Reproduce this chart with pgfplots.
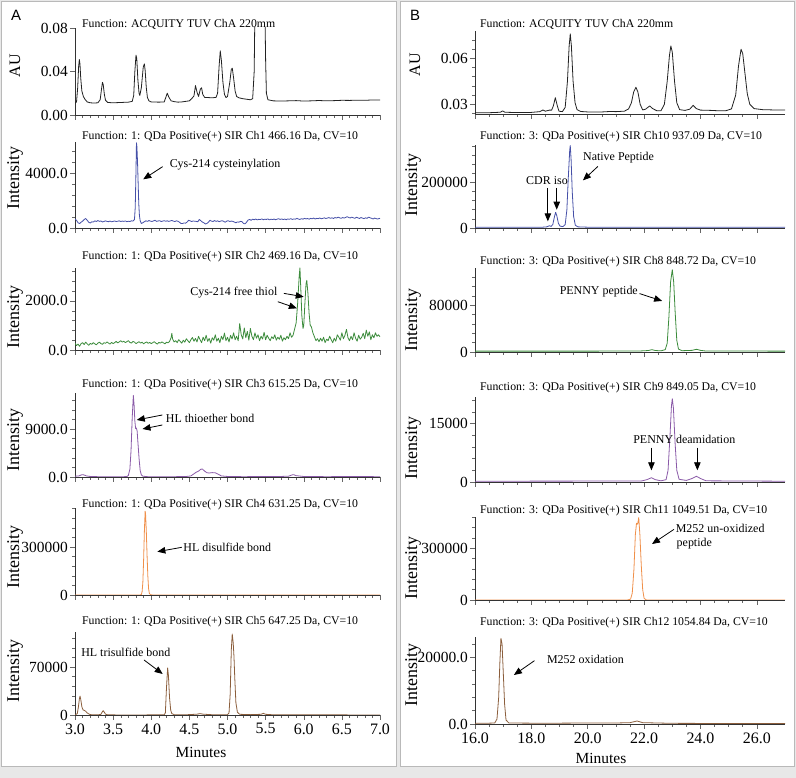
\documentclass[border=0pt]{standalone}
\usepackage{pgfplots}
\pgfplotsset{compat=1.18}
\usepackage{fontspec}
\setmainfont{Liberation Serif}
\newfontfamily\panelfont{Liberation Sans}
\usetikzlibrary{arrows.meta}
\definecolor{cblack}{HTML}{222222}
\definecolor{cblue}{HTML}{4650A8}
\definecolor{cgreen}{HTML}{3C8C3C}
\definecolor{cpurple}{HTML}{8A5AA8}
\definecolor{corange}{HTML}{F0904A}
\definecolor{cbrown}{HTML}{8B5E3C}
\pgfplotsset{
  chrom/.style={scale only axis, axis lines*=left, tick align=outside, clip mode=individual,
    anchor=south west, scaled y ticks=false, scaled x ticks=false,
    axis line style={black!80,line width=0.6bp},
    major tick length=5bp, minor tick length=3bp,
    every tick/.style={black!60,line width=0.5bp},
    yticklabel style={font=\fontsize{15.5}{15.5}\selectfont, inner sep=2bp},
    xticklabel style={font=\fontsize{16}{16}\selectfont},
    every axis plot/.append style={line width=0.8bp, line join=round}},
  panelA/.style={chrom, width=305bp, xmin=3, xmax=7, xtick={3,3.5,4,4.5,5,5.5,6,6.5,7}, minor x tick num=4, xticklabels={}},
  panelB/.style={chrom, width=310bp, xmin=16, xmax=27, xtick={16,18,20,22,24,26}, minor x tick num=3, xticklabels={}},
}
\tikzset{annarrow/.style={black, line width=0.8bp, -{Triangle[length=8bp,width=6.5bp]}},
  ann/.style={anchor=west, inner sep=0pt, font=\fontsize{12}{13}\selectfont}}
\begin{document}
\begin{tikzpicture}[x=1bp,y=1bp]
\path[use as bounding box] (0,0) rectangle (796,778);
\fill[gray!18] (0,0) rectangle (796,778);
\filldraw[fill=white, draw=gray!55, line width=1bp] (1.5,11) rectangle (396,776.5);
\filldraw[fill=white, draw=gray!55, line width=1bp] (400,11) rectangle (794.5,776.5);
\node[font=\panelfont\fontsize{15}{15}\selectfont] at (16,763) {A};
\node[font=\panelfont\fontsize{15}{15}\selectfont] at (415,763) {B};

% ---------------- Panel A ----------------
\begin{axis}[panelA, at={(75bp,663bp)}, height=87bp, ymin=0, ymax=0.08,
  ytick={0,0.04,0.08}, yticklabels={0.00,0.04,0.08}]
\addplot[cblack] coordinates {
(3.00,0.0108)(3.02,0.012)(3.035,0.025)(3.048,0.045)(3.057,0.051)(3.065,0.047)(3.075,0.034)(3.09,0.022)(3.11,0.017)(3.13,0.0145)(3.16,0.012)(3.20,0.0112)(3.25,0.011)(3.30,0.0112)(3.33,0.014)(3.35,0.025)(3.36,0.030)(3.37,0.028)(3.385,0.019)(3.40,0.0135)(3.43,0.0115)(3.50,0.0112)(3.60,0.0115)(3.70,0.0118)(3.75,0.0125)(3.77,0.018)(3.785,0.040)(3.80,0.055)(3.81,0.052)(3.825,0.032)(3.84,0.020)(3.85,0.018)(3.87,0.025)(3.895,0.044)(3.91,0.047)(3.92,0.041)(3.935,0.025)(3.95,0.016)(3.97,0.013)(4.00,0.012)(4.10,0.0118)(4.17,0.012)(4.19,0.016)(4.21,0.020)(4.23,0.0165)(4.26,0.013)(4.30,0.0123)(4.35,0.0118)(4.40,0.012)(4.45,0.0125)(4.50,0.013)(4.53,0.015)(4.56,0.0175)(4.58,0.027)(4.60,0.021)(4.62,0.017)(4.645,0.024)(4.66,0.025)(4.675,0.019)(4.70,0.0162)(4.75,0.016)(4.80,0.0158)(4.85,0.0162)(4.87,0.020)(4.89,0.045)(4.905,0.059)(4.92,0.050)(4.94,0.030)(4.96,0.019)(4.98,0.016)(5.00,0.017)(5.03,0.030)(5.05,0.042)(5.063,0.043)(5.08,0.034)(5.10,0.022)(5.12,0.017)(5.15,0.0158)(5.20,0.015)(5.25,0.0145)(5.30,0.014)(5.33,0.015)(5.35,0.040)(5.36,0.10)(5.37,0.12)(5.40,0.10)(5.43,0.095)(5.46,0.10)(5.48,0.12)(5.49,0.10)(5.50,0.05)(5.51,0.020)(5.53,0.014)(5.60,0.013)(5.70,0.0128)(5.80,0.013)(5.90,0.0132)(6.00,0.0128)(6.10,0.013)(6.20,0.0133)(6.30,0.013)(6.40,0.0132)(6.50,0.0135)(6.60,0.0134)(6.70,0.0136)(6.80,0.0135)(6.90,0.0138)(7.00,0.0138)};
\end{axis}

\begin{axis}[panelA, at={(75bp,550bp)}, height=86bp, ymin=0, ymax=6255,
  ytick={0,4000}, yticklabels={0.0,4000.0}, minor ytick={800,1600,2400,3200,4800,5600}]
\addplot[cblue] coordinates {
(3.000,650)(3.020,560)(3.040,380)(3.060,320)(3.080,420)(3.100,500)(3.120,610)(3.140,690)(3.160,560)(3.180,420)(3.200,360)(3.220,450)(3.240,430)(3.260,520)(3.280,470)(3.300,540)(3.320,480)(3.340,510)(3.360,440)(3.380,470)(3.400,520)(3.420,480)(3.440,460)(3.460,500)(3.480,450)(3.500,480)(3.520,510)(3.540,470)(3.560,490)(3.580,520)(3.600,470)(3.620,500)(3.640,480)(3.660,510)(3.680,460)(3.700,490)(3.720,470)(3.740,520)(3.760,500)(3.780,620)(3.790,1500)(3.800,4200)(3.806,6200)(3.812,5900)(3.820,4800)(3.828,3300)(3.836,1800)(3.845,900)(3.855,520)(3.870,330)(3.890,380)(3.910,460)(3.930,520)(3.950,480)(3.970,540)(3.990,500)(4.010,470)(4.030,520)(4.050,560)(4.070,480)(4.090,510)(4.110,530)(4.130,470)(4.150,500)(4.170,530)(4.190,490)(4.210,520)(4.230,480)(4.250,510)(4.270,550)(4.290,500)(4.310,470)(4.330,520)(4.350,490)(4.370,420)(4.390,330)(4.410,320)(4.430,370)(4.450,350)(4.470,430)(4.490,560)(4.510,520)(4.530,470)(4.550,510)(4.570,490)(4.590,480)(4.610,450)(4.630,620)(4.650,530)(4.670,430)(4.690,380)(4.710,290)(4.730,330)(4.750,420)(4.770,560)(4.790,500)(4.810,470)(4.830,540)(4.850,480)(4.870,520)(4.890,460)(4.910,500)(4.930,530)(4.950,480)(4.970,420)(4.990,500)(5.010,530)(5.030,470)(5.050,500)(5.070,480)(5.090,430)(5.110,380)(5.130,440)(5.150,420)(5.170,480)(5.190,460)(5.210,330)(5.230,300)(5.250,420)(5.270,580)(5.290,620)(5.310,560)(5.330,640)(5.350,600)(5.370,650)(5.390,590)(5.410,630)(5.430,610)(5.450,660)(5.470,600)(5.490,640)(5.510,620)(5.530,660)(5.550,590)(5.570,640)(5.590,610)(5.610,650)(5.630,600)(5.650,640)(5.670,680)(5.690,620)(5.710,660)(5.730,610)(5.750,650)(5.770,600)(5.790,660)(5.810,630)(5.830,680)(5.850,620)(5.870,660)(5.890,640)(5.910,700)(5.930,650)(5.950,620)(5.970,680)(5.990,640)(6.010,700)(6.030,660)(6.050,690)(6.070,640)(6.090,700)(6.110,670)(6.130,720)(6.150,650)(6.170,700)(6.190,680)(6.210,730)(6.230,670)(6.250,700)(6.270,740)(6.290,690)(6.310,720)(6.330,760)(6.350,700)(6.370,740)(6.390,690)(6.410,760)(6.430,720)(6.450,790)(6.470,740)(6.490,700)(6.510,760)(6.530,720)(6.550,770)(6.570,820)(6.590,760)(6.610,730)(6.630,790)(6.650,740)(6.670,700)(6.690,780)(6.710,740)(6.730,690)(6.750,760)(6.770,720)(6.790,680)(6.810,740)(6.830,700)(6.850,790)(6.870,740)(6.890,700)(6.910,660)(6.930,720)(6.950,680)(6.970,650)(6.990,700)(7.000,680)};
\draw[annarrow] (axis cs:4.149,4460) -- (axis cs:3.895,3540);
\node[ann] at (axis cs:4.24,4580) {Cys-214 cysteinylation};
\end{axis}

\begin{axis}[panelA, at={(75bp,428bp)}, height=82bp, ymin=0, ymax=3346,
  ytick={0,2000}, yticklabels={0.0,2000.0}, minor ytick={400,800,1200,1600,2400,2800,3200}]
\addplot[cgreen] coordinates {
(3.00,280)(3.02,180)(3.04,240)(3.06,150)(3.08,260)(3.10,300)(3.12,220)(3.14,320)(3.16,250)(3.18,190)(3.20,270)(3.22,230)(3.24,300)(3.26,250)(3.28,210)(3.30,280)(3.32,320)(3.34,260)(3.36,230)(3.38,300)(3.40,270)(3.42,330)(3.44,280)(3.46,240)(3.48,310)(3.50,260)(3.52,300)(3.54,350)(3.56,290)(3.58,330)(3.60,380)(3.62,320)(3.64,360)(3.66,300)(3.68,340)(3.70,380)(3.72,310)(3.74,280)(3.76,350)(3.78,320)(3.80,260)(3.82,300)(3.84,340)(3.86,280)(3.88,320)(3.90,250)(3.92,300)(3.94,330)(3.96,270)(3.98,310)(4.00,260)(4.02,300)(4.04,340)(4.06,280)(4.08,240)(4.10,310)(4.12,280)(4.14,330)(4.16,290)(4.18,250)(4.20,320)(4.22,290)(4.24,350)(4.26,500)(4.27,680)(4.28,450)(4.30,330)(4.32,380)(4.34,300)(4.36,420)(4.38,350)(4.40,280)(4.42,400)(4.44,320)(4.46,460)(4.48,380)(4.50,300)(4.52,420)(4.54,510)(4.56,360)(4.58,470)(4.60,330)(4.62,560)(4.64,420)(4.66,300)(4.68,520)(4.70,380)(4.72,600)(4.74,350)(4.76,470)(4.78,280)(4.80,500)(4.82,400)(4.84,620)(4.86,360)(4.88,480)(4.90,300)(4.92,560)(4.94,420)(4.96,690)(4.98,380)(5.00,520)(5.02,330)(5.04,600)(5.06,450)(5.08,700)(5.10,420)(5.12,560)(5.14,380)(5.16,1080)(5.18,620)(5.20,450)(5.22,900)(5.24,500)(5.26,760)(5.28,400)(5.30,880)(5.32,560)(5.34,420)(5.36,700)(5.38,480)(5.40,620)(5.42,380)(5.44,560)(5.46,450)(5.48,720)(5.50,420)(5.52,600)(5.54,480)(5.56,380)(5.58,540)(5.60,460)(5.62,620)(5.64,400)(5.66,520)(5.68,440)(5.70,600)(5.72,360)(5.74,500)(5.76,420)(5.78,560)(5.80,460)(5.82,700)(5.84,520)(5.86,600)(5.88,850)(5.90,1100)(5.92,1900)(5.94,3000)(5.95,3350)(5.96,2600)(5.975,1400)(5.99,880)(6.00,1000)(6.015,1900)(6.03,2700)(6.04,2840)(6.055,2300)(6.07,1500)(6.085,1000)(6.10,950)(6.12,700)(6.14,540)(6.16,380)(6.18,460)(6.20,340)(6.22,480)(6.24,360)(6.26,520)(6.28,300)(6.30,440)(6.32,380)(6.34,560)(6.36,420)(6.38,300)(6.40,480)(6.42,360)(6.44,620)(6.46,520)(6.48,400)(6.50,700)(6.52,460)(6.54,600)(6.56,840)(6.58,500)(6.60,380)(6.62,560)(6.64,420)(6.66,700)(6.68,480)(6.70,360)(6.72,600)(6.74,440)(6.76,520)(6.78,680)(6.80,460)(6.82,810)(6.84,560)(6.86,740)(6.88,420)(6.90,620)(6.92,500)(6.94,700)(6.96,560)(6.98,620)(7.00,540)};
\draw[annarrow] (axis cs:5.74,2310) -- (axis cs:6.00,2170);
\draw[annarrow] (axis cs:5.66,1970) -- (axis cs:5.91,1700);
\node[ann] at (axis cs:4.51,2340) {Cys-214 free thiol};
\end{axis}

\begin{axis}[panelA, at={(75bp,301bp)}, height=84bp, ymin=0, ymax=15750,
  ytick={0,9000}, yticklabels={0.0,9000.0}, minor ytick={1800,3600,5400,7200,10800,12600,14400}]
\addplot[cpurple] coordinates {
(3.00,150)(3.05,200)(3.08,380)(3.10,430)(3.12,380)(3.15,200)(3.20,100)(3.30,60)(3.40,50)(3.50,40)(3.60,40)(3.68,80)(3.70,300)(3.72,1500)(3.735,5000)(3.75,11000)(3.765,15300)(3.775,13500)(3.785,10500)(3.795,9100)(3.805,9200)(3.815,8600)(3.825,6500)(3.84,3500)(3.855,1200)(3.87,400)(3.89,150)(3.95,60)(4.10,50)(4.30,60)(4.45,80)(4.52,200)(4.56,600)(4.59,900)(4.62,1100)(4.65,1450)(4.67,1500)(4.70,1100)(4.73,800)(4.76,750)(4.80,820)(4.84,780)(4.88,500)(4.92,200)(5.00,100)(5.20,60)(5.50,80)(5.70,100)(5.80,150)(5.85,400)(5.87,430)(5.90,250)(6.00,90)(6.30,60)(6.60,80)(7.00,60)};
\draw[annarrow] (axis cs:4.145,11625) -- (axis cs:3.81,10690);
\draw[annarrow] (axis cs:4.145,9750) -- (axis cs:3.885,9000);
\node[ann] at (axis cs:4.19,11000) {HL thioether bond};
\end{axis}

\begin{axis}[panelA, at={(75bp,183bp)}, height=87bp, ymin=0, ymax=543750,
  ytick={0,300000}, yticklabels={0,300000}, minor ytick={60000,120000,180000,240000,360000,420000,480000,540000}]
\addplot[corange] coordinates {
(3.00,0)(3.85,0)(3.87,3000)(3.88,20000)(3.89,80000)(3.90,220000)(3.91,400000)(3.92,524000)(3.925,510000)(3.935,400000)(3.945,250000)(3.955,120000)(3.965,40000)(3.975,10000)(3.99,2000)(4.02,0)(7.00,0)};
\draw[annarrow] (axis cs:4.40,298000) -- (axis cs:4.08,270600);
\node[ann] at (axis cs:4.42,300000) {HL disulfide bond};
\end{axis}

\begin{axis}[panelA, at={(75bp,63bp)}, height=83bp, ymin=0, ymax=121000,
  ytick={0,70000}, yticklabels={0,70000}, minor ytick={14000,28000,42000,56000,84000,98000,112000},
  xticklabels={3.0,3.5,4.0,4.5,5.0,5.5,6.0,6.5,7.0}]
\addplot[cbrown] coordinates {
(3.00,0)(3.03,2000)(3.045,12000)(3.058,24000)(3.066,27500)(3.075,23000)(3.09,12000)(3.105,7500)(3.125,6500)(3.14,5500)(3.16,3000)(3.19,1000)(3.22,300)(3.30,200)(3.34,1000)(3.36,5000)(3.37,6300)(3.385,4000)(3.40,1200)(3.43,200)(3.60,100)(4.00,150)(4.17,300)(4.185,3000)(4.20,40000)(4.215,68500)(4.225,58000)(4.24,25000)(4.255,7000)(4.27,2000)(4.30,500)(4.45,300)(4.60,1200)(4.64,2000)(4.68,1200)(4.80,400)(5.00,500)(5.02,3000)(5.035,30000)(5.05,95000)(5.062,118000)(5.075,105000)(5.085,85000)(5.095,55000)(5.11,18000)(5.13,4000)(5.16,1000)(5.30,500)(5.44,1000)(5.47,2400)(5.50,1000)(5.60,300)(6.00,200)(7.00,100)};
\draw[annarrow] (axis cs:3.905,80200) -- (axis cs:4.15,59800);
\node[ann] at (axis cs:3.08,90800) {HL trisulfide bond};
\end{axis}

% ---------------- Panel B ----------------
\begin{axis}[panelB, at={(475bp,664bp)}, height=83bp, ymin=0.02367, ymax=0.0778,
  ytick={0.03,0.06}, yticklabels={0.03,0.06}, minor ytick={0.024,0.036,0.042,0.048,0.054,0.066,0.072}]
\addplot[cblack] coordinates {
(16.00,0.0245)(16.50,0.0245)(16.90,0.0248)(16.98,0.0257)(17.06,0.0248)(17.50,0.0246)(18.00,0.0247)(18.30,0.0252)(18.41,0.0263)(18.50,0.0255)(18.64,0.0262)(18.72,0.0262)(18.78,0.029)(18.85,0.0343)(18.92,0.029)(18.98,0.0255)(19.10,0.0252)(19.20,0.028)(19.28,0.045)(19.34,0.068)(19.38,0.0759)(19.42,0.068)(19.48,0.045)(19.55,0.031)(19.62,0.0265)(19.75,0.0253)(20.00,0.025)(20.50,0.025)(20.80,0.0253)(21.00,0.0252)(21.30,0.0255)(21.45,0.027)(21.55,0.031)(21.63,0.038)(21.71,0.0411)(21.78,0.038)(21.86,0.030)(21.95,0.0263)(22.05,0.0268)(22.20,0.0289)(22.30,0.0272)(22.45,0.0258)(22.60,0.0258)(22.72,0.030)(22.82,0.045)(22.90,0.062)(22.95,0.068)(23.00,0.064)(23.08,0.045)(23.16,0.031)(23.26,0.0265)(23.45,0.026)(23.62,0.0268)(23.74,0.0293)(23.85,0.0272)(24.00,0.0262)(24.39,0.026)(24.60,0.0258)(24.90,0.0258)(25.10,0.027)(25.25,0.036)(25.35,0.055)(25.44,0.0659)(25.50,0.063)(25.58,0.050)(25.66,0.037)(25.75,0.030)(25.90,0.0272)(26.20,0.0265)(26.60,0.0263)(27.00,0.0263)};
\end{axis}

\begin{axis}[panelB, at={(475bp,550bp)}, height=83bp, ymin=0, ymax=364000,
  ytick={0,200000}, yticklabels={0,200000}, minor ytick={40000,80000,120000,160000,240000,280000,320000,360000}]
\addplot[cblue] coordinates {
(16.00,3000)(18.00,3000)(18.40,3500)(18.55,5000)(18.64,10000)(18.70,7000)(18.76,15000)(18.82,50000)(18.86,68600)(18.90,55000)(18.96,20000)(19.02,8000)(19.12,6000)(19.20,15000)(19.26,80000)(19.31,220000)(19.36,340000)(19.38,362000)(19.41,300000)(19.45,160000)(19.50,50000)(19.56,12000)(19.65,5000)(20.00,3500)(22.00,3000)(24.00,3000)(27.00,3000)};
\draw[annarrow] (axis cs:20.36,270000) -- (axis cs:19.83,208800);
\node[ann] at (axis cs:19.83,307000) {Native Peptide};
\draw[annarrow] (axis cs:18.585,175400) -- (axis cs:18.585,29000);
\draw[annarrow] (axis cs:18.90,175400) -- (axis cs:18.90,80300);
\node[ann] at (axis cs:17.81,208800) {CDR iso};
\end{axis}

\begin{axis}[panelB, at={(475bp,426bp)}, height=84bp, ymin=0, ymax=143900,
  ytick={0,80000}, yticklabels={0,80000}, minor ytick={16000,32000,48000,64000,96000,112000,128000}]
\addplot[cgreen] coordinates {
(16.00,1500)(20.00,1500)(21.80,1600)(22.15,2500)(22.28,4000)(22.40,2500)(22.60,2000)(22.75,4000)(22.82,15000)(22.88,60000)(22.94,120000)(23.00,141000)(23.05,120000)(23.10,70000)(23.16,20000)(23.22,5000)(23.35,2200)(23.70,2800)(23.86,4600)(24.00,2800)(24.20,1600)(27.00,1500)};
\draw[annarrow] (axis cs:21.84,100000) -- (axis cs:22.64,87400);
\node[ann] at (axis cs:19.0,102800) {PENNY peptide};
\end{axis}

\begin{axis}[panelB, at={(475bp,296bp)}, height=85bp, ymin=0, ymax=21830,
  ytick={0,15000}, yticklabels={0,15000}, minor ytick={3000,6000,9000,12000,18000,21000}]
\addplot[cpurple] coordinates {
(16.00,200)(21.90,250)(22.10,600)(22.26,1100)(22.40,600)(22.60,300)(22.78,600)(22.85,3000)(22.92,12000)(22.97,19500)(23.00,21400)(23.04,19000)(23.10,10000)(23.16,3000)(23.24,700)(23.50,400)(23.70,900)(23.86,1460)(24.00,900)(24.20,300)(27.00,200)};
\draw[annarrow] (axis cs:22.26,8830) -- (axis cs:22.26,3000);
\draw[annarrow] (axis cs:23.89,8830) -- (axis cs:23.89,3000);
\node[ann] at (axis cs:21.61,10900) {PENNY deamidation};
\end{axis}

\begin{axis}[panelB, at={(475bp,178bp)}, height=83bp, ymin=0, ymax=481600,
  ytick={0,300000}, yticklabels={0,300000}, minor ytick={60000,120000,180000,240000,360000,420000,480000}]
\addplot[corange] coordinates {
(16.00,0)(21.40,0)(21.52,5000)(21.58,40000)(21.64,180000)(21.69,380000)(21.73,445000)(21.77,440000)(21.81,478000)(21.85,380000)(21.90,200000)(21.95,60000)(22.00,10000)(22.08,0)(27.00,0)};
\draw[annarrow] (axis cs:23.06,410000) -- (axis cs:22.28,324800);
\node[ann] at (axis cs:23.12,416000) {M252 un-oxidized};
\node[ann] at (axis cs:23.15,329000) {peptide};
\end{axis}

\begin{axis}[panelB, at={(475bp,54bp)}, height=87bp, ymin=0, ymax=26100,
  ytick={0,20000}, yticklabels={0.0,20000.0}, minor ytick={4000,8000,12000,16000,24000},
  xticklabels={16.0,18.0,20.0,22.0,24.0,26.0}]
\addplot[cbrown] coordinates {
(16.00,200)(16.50,250)(16.70,300)(16.78,1500)(16.84,8000)(16.88,18000)(16.92,25700)(16.96,24000)(17.00,16000)(17.05,6000)(17.10,1200)(17.20,300)(18.00,250)(19.00,250)(20.00,300)(21.00,300)(21.50,400)(21.75,900)(21.95,400)(23.00,200)(25.00,150)(27.00,150)};
\draw[annarrow] (axis cs:18.11,19000) -- (axis cs:17.38,14700);
\node[ann] at (axis cs:18.55,19500) {M252 oxidation};
\end{axis}

% ---------------- titles and labels ----------------
\begin{scope}[every node/.style={anchor=west, inner sep=0pt, font=\fontsize{11.8}{12}\selectfont}]
\node at (82,754) {Function: ACQUITY TUV ChA 220mm};
\node at (82,641) {Function: 1: QDa Positive(+) SIR Ch1 466.16 Da, CV=10};
\node at (82,521) {Function: 1: QDa Positive(+) SIR Ch2 469.16 Da, CV=10};
\node at (82,393) {Function: 1: QDa Positive(+) SIR Ch3 615.25 Da, CV=10};
\node at (82,273) {Function: 1: QDa Positive(+) SIR Ch4 631.25 Da, CV=10};
\node at (82,156) {Function: 1: QDa Positive(+) SIR Ch5 647.25 Da, CV=10};
\node at (480,754) {Function: ACQUITY TUV ChA 220mm};
\node at (480,641) {Function: 3: QDa Positive(+) SIR Ch10 937.09 Da, CV=10};
\node at (480,516) {Function: 3: QDa Positive(+) SIR Ch8 848.72 Da, CV=10};
\node at (480,390) {Function: 3: QDa Positive(+) SIR Ch9 849.05 Da, CV=10};
\node at (480,267) {Function: 3: QDa Positive(+) SIR Ch11 1049.51 Da, CV=10};
\node at (480,155) {Function: 3: QDa Positive(+) SIR Ch12 1054.84 Da, CV=10};
\end{scope}
\begin{scope}[every node/.style={rotate=90, inner sep=0pt, font=\fontsize{18}{18}\selectfont}]
\node[font=\fontsize{16}{16}\selectfont] at (15,712) {AU};
\node at (15,600) {Intensity};
\node at (15,461) {Intensity};
\node at (15,338) {Intensity};
\node at (15,221) {Intensity};
\node at (15,107) {Intensity};
\node[font=\fontsize{16}{16}\selectfont] at (415,713) {AU};
\node at (413,593) {Intensity};
\node at (413,458) {Intensity};
\node at (413,330) {Intensity};
\node at (413,210) {Intensity};
\node at (413,103) {Intensity};
\end{scope}
\node[font=\fontsize{15.5}{16}\selectfont] at (201,26) {Minutes};
\node[font=\fontsize{15.5}{16}\selectfont] at (601,20) {Minutes};
\end{tikzpicture}
\end{document}
